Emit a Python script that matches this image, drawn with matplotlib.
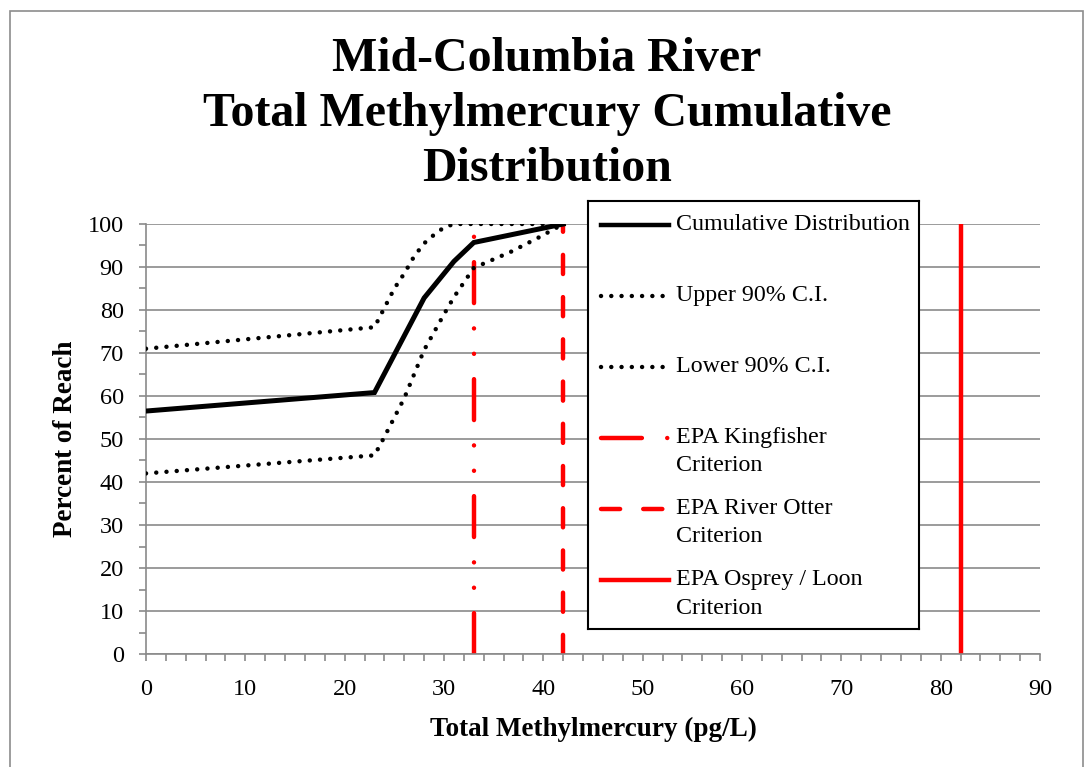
import numpy as np
import matplotlib.pyplot as plt
from matplotlib.patches import Rectangle
from matplotlib.ticker import MultipleLocator

plt.rcParams["font.family"] = ["Liberation Serif", "DejaVu Serif"]

# ---- data ----
cum_x = [0, 23, 28, 31, 33, 42]
cum_y = [56.5, 60.8, 82.8, 91.3, 95.7, 100]

upper_x = [0, 23, 24, 25, 26, 27, 28, 29, 30, 31, 42]
upper_y = [71.0, 76.0, 80.5, 85.0, 88.5, 92.5, 95.5, 97.5, 99.2, 100, 100]

lower_x = [0, 23, 24, 26, 28, 30, 31, 33, 36.7, 39.4, 42]
lower_y = [42.0, 46.2, 50.5, 59.5, 70.7, 79.0, 83.0, 89.8, 93.5, 96.7, 100]

kingfisher_x = 33
otter_x = 42
osprey_x = 82

title = "Mid-Columbia River\nTotal Methylmercury Cumulative\nDistribution"
legend_labels = [
    ["Cumulative Distribution"],
    ["Upper 90% C.I."],
    ["Lower 90% C.I."],
    ["EPA Kingfisher", "Criterion"],
    ["EPA River Otter", "Criterion"],
    ["EPA Osprey / Loon", "Criterion"],
]

W, H = 1086, 767
fig = plt.figure(figsize=(W / 100, H / 100), dpi=100)
fig.patch.set_facecolor("white")

# outer chart frame
fig.patches.append(
    Rectangle((10 / W, -0.1), (1083 - 10) / W, 1.1 - 11 / H,
              transform=fig.transFigure, fill=False, edgecolor="#8c8c8c",
              linewidth=1.2)
)

ax = fig.add_axes([146 / W, 1 - 654 / H, (1040 - 146) / W, (654 - 224) / H])

grey = "#8a8a8a"
red = "#ff0000"
dot_style = (0, (0.01, 2.3))
dash_style = (0, (4.3, 5.2))
dashdot_style = (0, (9.2, 5.7, 0.01, 5.7, 0.01, 5.7))

ax.plot(upper_x, upper_y, color="black", lw=3.2, linestyle=dot_style,
        dash_capstyle="round", zorder=3)
ax.plot(lower_x, lower_y, color="black", lw=3.2, linestyle=dot_style,
        dash_capstyle="round", zorder=3)
ax.plot(cum_x, cum_y, color="black", lw=3.6, zorder=4,
        solid_joinstyle="miter")

ax.plot([kingfisher_x, kingfisher_x], [0, 100], color=red, lw=3.2,
        linestyle=dashdot_style, dash_capstyle="round", zorder=2)
ax.plot([otter_x, otter_x], [0, 100], color=red, lw=3.2,
        linestyle=dash_style, dash_capstyle="round", zorder=2)
ax.plot([osprey_x, osprey_x], [0, 100], color=red, lw=3.2, zorder=2)

ax.set_xlim(0, 90)
ax.set_ylim(0, 100)
ax.xaxis.set_major_locator(MultipleLocator(10))
ax.xaxis.set_minor_locator(MultipleLocator(2))
ax.yaxis.set_major_locator(MultipleLocator(10))
ax.yaxis.set_minor_locator(MultipleLocator(5))
ax.grid(axis="y", which="major", color=grey, linewidth=1.2)
ax.set_axisbelow(True)
for s in ["top", "right"]:
    ax.spines[s].set_visible(False)
for s in ["left", "bottom"]:
    ax.spines[s].set_color(grey)
    ax.spines[s].set_linewidth(1.2)
ax.tick_params(which="both", direction="out", color=grey, width=1.2,
               length=5, labelsize=17.5, pad=13)
ax.tick_params(axis="y", which="both", pad=11)

ax.set_xlabel("Total Methylmercury (pg/L)", fontsize=19.5, fontweight="bold",
              labelpad=12)
ax.set_ylabel("Percent of Reach", fontsize=19.5, fontweight="bold",
              labelpad=7)

fig.text(547 / W, 1 - 114 / H, title, ha="center", va="center",
         fontsize=34.5, fontweight="bold", linespacing=1.32)

# ---- legend box (pixel units inside the box) ----
lx0, ly0, lx1, ly1 = 588, 201, 919, 629
lax = fig.add_axes([lx0 / W, 1 - ly1 / H, (lx1 - lx0) / W, (ly1 - ly0) / H])
lax.set_xlim(0, lx1 - lx0)
lax.set_ylim(ly1 - ly0, 0)
lax.set_xticks([])
lax.set_yticks([])
for s in lax.spines.values():
    s.set_color("black")
    s.set_linewidth(1.5)

handle_styles = [
    dict(color="black", lw=3.2),
    dict(color="black", lw=3.2, linestyle=dot_style, dash_capstyle="round"),
    dict(color="black", lw=3.2, linestyle=dot_style, dash_capstyle="round"),
    dict(color=red, lw=3.2, linestyle=dashdot_style, dash_capstyle="round"),
    dict(color=red, lw=3.2, linestyle=dash_style, dash_capstyle="round"),
    dict(color=red, lw=3.2),
]
slot = 71
for i, (labels, style) in enumerate(zip(legend_labels, handle_styles)):
    yc = 24 + i * slot
    lax.plot([13, 81], [yc, yc], **style)
    for j, line in enumerate(labels):
        lax.text(88, yc + j * 28, line, fontsize=17.3, va="center", ha="left")

fig.savefig("out.png", dpi=100)
